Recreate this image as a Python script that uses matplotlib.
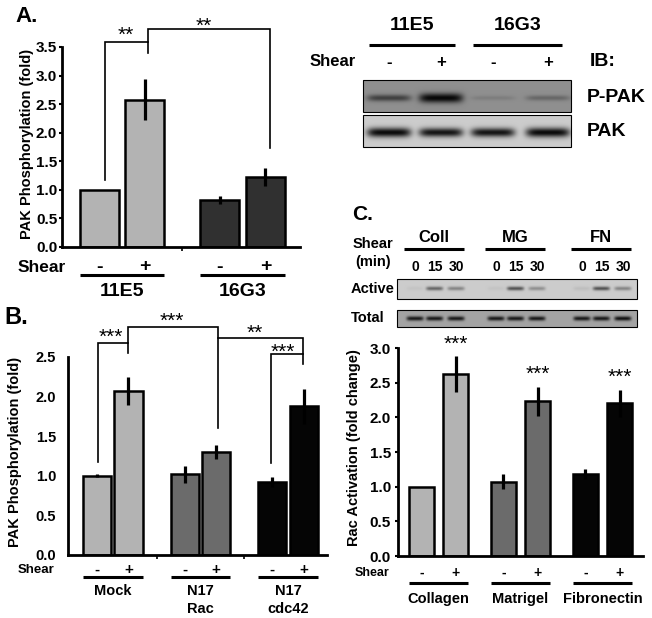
import numpy as np
import matplotlib
matplotlib.use('Agg')
import matplotlib.pyplot as plt
from matplotlib.patches import Rectangle
from matplotlib.transforms import blended_transform_factory as btf

# ---------------- data ----------------
shear_signs = ['-', '+']

a_groups = ['11E5', '16G3']
a_values = [1.0, 2.58, 0.82, 1.22]
a_errors = [0.0, 0.36, 0.07, 0.16]

b_groups = ['Mock', 'N17\nRac', 'N17\ncdc42']
b_values = [1.0, 2.07, 1.02, 1.30, 0.92, 1.88]
b_errors = [0.02, 0.18, 0.11, 0.09, 0.06, 0.22]

c_groups = ['Collagen', 'Matrigel', 'Fibronectin']
c_values = [1.0, 2.62, 1.07, 2.23, 1.18, 2.20]
c_errors = [0.0, 0.26, 0.11, 0.21, 0.07, 0.19]

blotA_groups = ['11E5', '16G3']
blotA_ppak = [0.55, 0.95, 0.12, 0.28]
blotA_pak = [0.95, 0.9, 0.9, 0.95]

blotC_groups = ['Coll', 'MG', 'FN']
blotC_times = ['0', '15', '30']
blotC_active = [0.04, 0.5, 0.35, 0.04, 0.6, 0.3, 0.07, 0.6, 0.35]
blotC_total = [0.85, 0.85, 0.85, 0.85, 0.85, 0.85, 0.85, 0.85, 0.9]

# ---------------- style ----------------
W, H = 652, 618
plt.rcParams['font.family'] = ['Liberation Sans', 'DejaVu Sans']
plt.rcParams['font.weight'] = 'bold'
LIGHT, MED, DARK, BLACK = '#b3b3b3', '#6b6b6b', '#303030', '#050505'
STAR_FS = 15

fig = plt.figure(figsize=(W / 100, H / 100), dpi=100)
ov = fig.add_axes([0, 0, 1, 1])
ov.set_xlim(0, W)
ov.set_ylim(H, 0)
ov.axis('off')


def px_axes(l, t, r, b):
    return fig.add_axes([l / W, 1 - b / H, (r - l) / W, (b - t) / H], facecolor='none')


def positions(n_groups, gap):
    return [g * gap + i for g in range(n_groups) for i in range(2)]


def bar_chart(ax, pos, vals, errs, colors, width, ymax, xlim, minor=None, tlen=2.5, tpad=1.0, tfs=11):
    ax.bar(pos, vals, width=width, color=colors, edgecolor='black', linewidth=1.8, zorder=2)
    ax.errorbar(pos, vals, yerr=errs, fmt='none', ecolor='black', elinewidth=2.3, capsize=0, zorder=3)
    ax.set_xlim(*xlim)
    ax.set_ylim(0, ymax)
    for s in ['top', 'right']:
        ax.spines[s].set_visible(False)
    for s in ['left', 'bottom']:
        ax.spines[s].set_linewidth(2.0)
        ax.spines[s].set_zorder(4)
    ticks = np.arange(0, ymax + 0.01, 0.5)
    ax.set_yticks(ticks)
    ax.set_yticklabels([f'{t:.1f}' for t in ticks], fontsize=tfs, fontweight='bold')
    ax.tick_params(axis='y', length=tlen, width=1.5, pad=tpad)
    if minor:
        ax.set_xticks(minor)
        ax.set_xticklabels([])
        ax.tick_params(axis='x', length=3, width=1.2)
    else:
        ax.set_xticks([])


def bracket(ax, pts, lw=1.2):
    xs, ys = zip(*pts)
    ax.plot(xs, ys, color='black', lw=lw, clip_on=False, zorder=5, solid_joinstyle='miter')


def stars(ax, x, y, s):
    ax.text(x, y, s, fontsize=STAR_FS, fontweight='normal', ha='center', va='center', clip_on=False)


def shear_row(ax, pos, width, groups, y_sign, y_line, y_label, fs_sign, fs_label, fs_shear, x_shear, lh=20):
    tr = btf(ax.transData, ov.transData)
    ov.text(x_shear, y_sign, 'Shear', fontsize=fs_shear, fontweight='bold', ha='left', va='center')
    for i, p in enumerate(pos):
        ov.text(p, y_sign, shear_signs[i % 2], transform=tr, fontsize=fs_sign, fontweight='bold',
                ha='center', va='center')
    for g, name in enumerate(groups):
        p0, p1 = pos[2 * g], pos[2 * g + 1]
        ov.plot([p0 - width / 2, p1 + width / 2], [y_line, y_line], transform=tr, color='black',
                lw=2.2, solid_capstyle='butt')
        for k, line in enumerate(name.split('\n')):
            ov.text((p0 + p1) / 2, y_label + k * lh, line, transform=tr, fontsize=fs_label,
                    fontweight='bold', ha='center', va='center')


def blot(x0, x1, y0, y1, bg, lanes_x, dark, half_w, yc, sig):
    nx, ny = int(x1 - x0) * 3, int(y1 - y0) * 3
    xs = np.linspace(x0, x1, nx)
    ys = np.linspace(y0, y1, ny)
    X, Y = np.meshgrid(xs, ys)
    img = np.full(X.shape, bg)
    for lx, d, s in zip(lanes_x, dark, sig):
        prof = np.exp(-((X - lx) / half_w) ** 6) * np.exp(-((Y - yc) / s) ** 2 / 2)
        img = img * (1 - d * prof)
    ov.imshow(np.clip(img, 0, 1), cmap='gray', vmin=0, vmax=1, extent=(x0, x1, y1, y0),
              aspect='auto', interpolation='bilinear', zorder=1)
    ov.add_patch(Rectangle((x0, y0), x1 - x0, y1 - y0, fill=False, ec='black', lw=0.8, zorder=2))


# ================= Panel A chart =================
axA = px_axes(62, 47, 300, 247)
posA = positions(2, 2.65)
bar_chart(axA, posA, a_values, a_errors, [LIGHT, LIGHT, DARK, DARK], 0.86, 3.5, (-0.82, 4.41),
          minor=[(posA[1] + posA[2]) / 2], tlen=2.5, tpad=1.0)
ov.text(27, 144, 'PAK Phosphorylation (fold)', fontsize=10.5, fontweight='bold', rotation=90,
        ha='center', va='center')
bracket(axA, [(posA[0] + 0.12, 1.17), (posA[0] + 0.12, 3.59), (posA[1] + 0.06, 3.59), (posA[1] + 0.06, 3.40)])
bracket(axA, [(posA[1] + 0.06, 3.59), (posA[1] + 0.06, 3.81), (posA[3] + 0.1, 3.81), (posA[3] + 0.1, 1.73)])
stars(axA, 0.58, 3.70, '**')
stars(axA, 2.30, 3.86, '**')
ov.text(15, 16, 'A.', fontsize=16, fontweight='bold', ha='left', va='center')
shear_row(axA, posA, 0.86, a_groups, 267, 275, 292, 14, 14, 12.5, 18)

# ================= Panel A blot =================
laneA = [389, 441, 493, 548]
blot(363, 571, 80, 112, 0.56, laneA, blotA_ppak, 22, 98, [2.4, 3.4, 1.6, 1.9])
blot(363, 571, 115, 147, 0.80, laneA, blotA_pak, 22, 132.5, [3.4, 3.2, 3.2, 3.4])
for g, name in enumerate(blotA_groups):
    xa, xb = laneA[2 * g] - 20, laneA[2 * g + 1] + 14
    ov.plot([xa, xb], [45, 45], color='black', lw=2.2, solid_capstyle='butt')
    ov.text((xa + xb) / 2, 26, name, fontsize=14, fontweight='bold', ha='center', va='center')
ov.text(310, 62, 'Shear', fontsize=12, fontweight='bold', ha='left', va='center')
for i, x in enumerate(laneA):
    ov.text(x, 62, shear_signs[i % 2], fontsize=12, fontweight='bold', ha='center', va='center')
ov.text(590, 62, 'IB:', fontsize=14, fontweight='bold', ha='left', va='center')
ov.text(587, 97, 'P-PAK', fontsize=14, fontweight='bold', ha='left', va='center')
ov.text(587, 131, 'PAK', fontsize=14, fontweight='bold', ha='left', va='center')

# ================= Panel B chart =================
axB = px_axes(68, 357, 327, 555)
posB = positions(3, 2.78)
bar_chart(axB, posB, b_values, b_errors, [LIGHT, LIGHT, MED, MED, BLACK, BLACK], 0.89, 2.5, (-0.92, 7.30),
          minor=[(posB[1] + posB[2]) / 2, (posB[3] + posB[4]) / 2], tlen=0, tpad=8.5, tfs=10.5)
ov.text(15, 452, 'PAK Phosphorylation (fold)', fontsize=10.5, fontweight='bold', rotation=90,
        ha='center', va='center')
bracket(axB, [(posB[0] + 0.03, 1.17), (posB[0] + 0.03, 2.68), (posB[1], 2.68), (posB[1], 2.55)])
bracket(axB, [(posB[1], 2.68), (posB[1], 2.88), (posB[3] + 0.06, 2.88), (posB[3] + 0.06, 1.60)])
bracket(axB, [(posB[3] + 0.06, 2.74), (posB[5] - 0.03, 2.74), (posB[5] - 0.03, 2.41)])
bracket(axB, [(posB[4] - 0.03, 1.16), (posB[4] - 0.03, 2.54), (posB[5] - 0.03, 2.54)])
stars(axB, 0.44, 2.75, '***')
stars(axB, 2.38, 2.95, '***')
stars(axB, 5.02, 2.80, '**')
stars(axB, 5.90, 2.56, '***')
ov.text(4, 318, 'B.', fontsize=17, fontweight='bold', ha='left', va='center')
shear_row(axB, posB, 0.89, b_groups, 570, 577, 591, 11, 10.5, 9.5, 18, lh=18)

# ================= Panel C blot =================
laneC = [g0 + d for g0 in [415, 496, 582] for d in [0, 19.5, 41]]
blot(397, 637, 279, 299, 0.80, laneC, blotC_active, 8.5, 288.5, [1.4] * 9)
blot(397, 637, 310, 327, 0.64, laneC, blotC_total, 8.5, 318.5, [1.6] * 9)
ov.text(352, 215, 'C.', fontsize=15, fontweight='bold', ha='left', va='center')
ov.text(353, 244, 'Shear', fontsize=10.5, fontweight='bold', ha='left', va='center')
ov.text(355, 262, '(min)', fontsize=10.5, fontweight='bold', ha='left', va='center')
for g, name in enumerate(blotC_groups):
    xa, xb = laneC[3 * g] - 11, laneC[3 * g + 2] + 8
    ov.plot([xa, xb], [249, 249], color='black', lw=2.2, solid_capstyle='butt')
    ov.text((xa + xb) / 2, 237, name, fontsize=12, fontweight='bold', ha='center', va='center')
for i, x in enumerate(laneC):
    ov.text(x, 267, blotC_times[i % 3], fontsize=10, fontweight='bold', ha='center', va='center')
ov.text(351, 289, 'Active', fontsize=10.5, fontweight='bold', ha='left', va='center')
ov.text(351, 318, 'Total', fontsize=10.5, fontweight='bold', ha='left', va='center')

# ================= Panel C chart =================
axC = px_axes(398, 348, 643, 556)
posC = positions(3, 2.41)
bar_chart(axC, posC, c_values, c_errors, [LIGHT, LIGHT, MED, MED, BLACK, BLACK], 0.76, 3.0, (-0.69, 6.51),
          tlen=2.5, tpad=2.5)
ov.text(354, 448, 'Rac Activation (fold change)', fontsize=10.5, fontweight='bold', rotation=90,
        ha='center', va='center')
for p, v, e in zip(posC[1::2], c_values[1::2], c_errors[1::2]):
    stars(axC, p, v + e + 0.18, '***')
shear_row(axC, posC, 0.76, c_groups, 573, 583, 599, 10, 10.5, 9, 355)

fig.savefig('out.png', dpi=100)
